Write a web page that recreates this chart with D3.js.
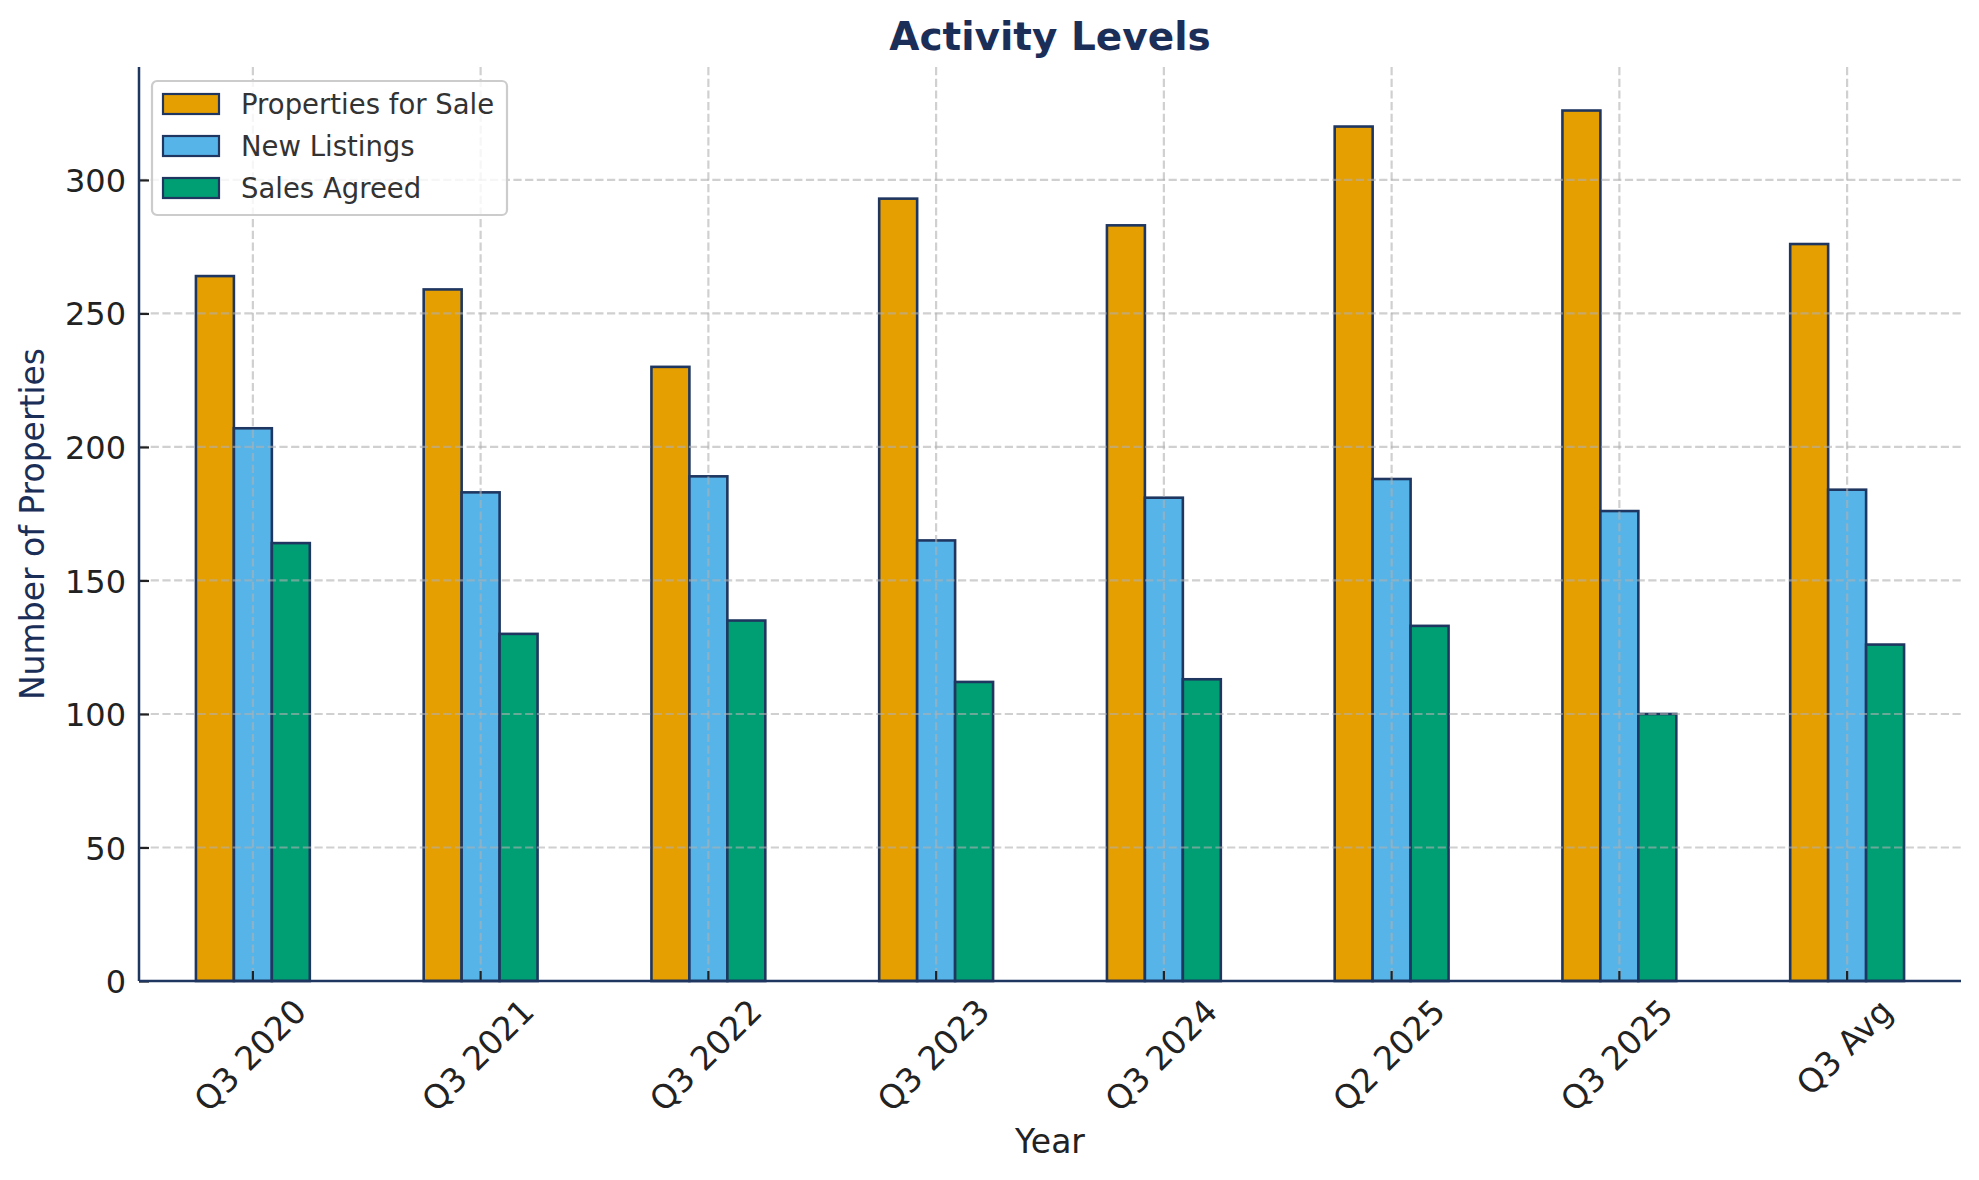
<!DOCTYPE html>
<html lang="en">
<head>
<meta charset="UTF-8">
<title>Activity Levels</title>
<script src="https://d3js.org/d3.v7.min.js"></script>
<style>
    body { margin: 0; background: #fff; }
    svg { display: block; font-family: "DejaVu Sans", sans-serif; }
</style>
</head>
<body>
<svg width="1979" height="1180"></svg>
<script>
    // Data
    const categories = ["Q3 2020", "Q3 2021", "Q3 2022", "Q3 2023", "Q3 2024", "Q2 2025", "Q3 2025", "Q3 Avg"];
    const propertiesForSale = [264, 259, 230, 293, 283, 320, 326, 276];
    const newListings = [207, 183, 189, 165, 181, 188, 176, 184];
    const salesAgreed = [164, 130, 135, 112, 113, 133, 100, 126];
    const seriesNames = ["Properties for Sale", "New Listings", "Sales Agreed"];
    const seriesColors = ["#E69F00", "#56B4E9", "#009E73"];
    const yTicks = [0, 50, 100, 150, 200, 250, 300];

    const navy = "#1b2e58";
    const edge = "#1f3760";

    const svg = d3.select("svg"),
          margin = {top: 67, right: 18, bottom: 199, left: 139},
          width = +svg.attr("width") - margin.left - margin.right,
          height = +svg.attr("height") - margin.top - margin.bottom;

    const g = svg.append("g").attr("transform", `translate(${margin.left},${margin.top})`);

    const seriesValues = [propertiesForSale, newListings, salesAgreed];
    const rows = categories.map((c, i) => ({cat: c, vals: seriesValues.map(s => s[i])}));

    // Scales
    const x = d3.scaleBand().domain(categories).range([0, width]).padding(0);
    const bw = x.bandwidth();
    const xSub = d3.scaleBand().domain(seriesNames).range([bw / 4, bw * 3 / 4]).padding(0);
    const yMax = d3.max(seriesValues.flat()) * 1.05;
    const y = d3.scaleLinear().domain([0, yMax]).range([height, 0]);

    // Bars
    const groups = g.append("g").selectAll("g")
        .data(rows)
        .join("g")
        .attr("transform", d => `translate(${x(d.cat)},0)`);

    groups.selectAll("rect")
        .data(d => d.vals.map((v, j) => ({name: seriesNames[j], value: v, color: seriesColors[j]})))
        .join("rect")
        .attr("x", d => xSub(d.name))
        .attr("y", d => y(d.value))
        .attr("width", xSub.bandwidth())
        .attr("height", d => y(0) - y(d.value))
        .attr("fill", d => d.color)
        .attr("stroke", edge)
        .attr("stroke-width", 2.6);

    // Grid (drawn above bars, like the reference)
    const grid = g.append("g").attr("stroke", "#b0b0b0").attr("stroke-opacity", 0.6)
        .attr("stroke-width", 2.2).attr("stroke-dasharray", "8.2,3.5");
    grid.selectAll("line.h").data(yTicks.slice(1)).join("line")
        .attr("x1", 0).attr("x2", width)
        .attr("y1", d => y(d)).attr("y2", d => y(d));
    grid.selectAll("line.v").data(categories).join("line")
        .attr("x1", d => x(d) + bw / 2).attr("x2", d => x(d) + bw / 2)
        .attr("y1", 0).attr("y2", height);

    // Axes
    const yAxis = g.append("g")
        .call(d3.axisLeft(y).tickValues(yTicks).tickSize(-10).tickPadding(13));
    const xAxis = g.append("g").attr("transform", `translate(0,${height})`)
        .call(d3.axisBottom(x).tickSize(-10).tickPadding(0));

    [yAxis, xAxis].forEach(ax => {
        ax.select(".domain").remove();
        ax.selectAll(".tick line").attr("stroke", "#222").attr("stroke-width", 2.2);
        ax.selectAll(".tick text").attr("fill", "#222").attr("font-size", 32)
            .attr("font-family", "DejaVu Sans, sans-serif");
    });
    yAxis.selectAll(".tick text").attr("dy", "0.36em");

    // rotated x labels, bbox centred under each tick
    xAxis.selectAll(".tick text")
        .attr("font-size", 33)
        .attr("text-anchor", "middle")
        .attr("y", 0)
        .attr("dy", "0.36em")
        .attr("transform", function() {
            const w = this.getComputedTextLength();
            const cy = 17 + (w + 20) * 0.3536;
            return `translate(-3,${cy}) rotate(-45)`;
        });

    // Spines (left and bottom only)
    g.append("line").attr("x1", 0).attr("x2", 0).attr("y1", 0).attr("y2", height)
        .attr("stroke", edge).attr("stroke-width", 2.5);
    g.append("line").attr("x1", 0).attr("x2", width).attr("y1", height).attr("y2", height)
        .attr("stroke", edge).attr("stroke-width", 2.5);

    // Titles
    svg.append("text").attr("x", margin.left + width / 2).attr("y", 50)
        .attr("text-anchor", "middle").attr("font-size", 39).attr("font-weight", "bold")
        .attr("fill", navy).text("Activity Levels");
    svg.append("text").attr("x", margin.left + width / 2).attr("y", 1153)
        .attr("text-anchor", "middle").attr("font-size", 33).attr("fill", "#222")
        .text("Year");
    svg.append("text").attr("transform", `translate(44,${margin.top + height / 2}) rotate(-90)`)
        .attr("text-anchor", "middle").attr("font-size", 33).attr("fill", navy)
        .text("Number of Properties");

    // Legend
    const legend = svg.append("g").attr("transform", "translate(152,81)");
    legend.append("rect").attr("width", 355).attr("height", 134).attr("rx", 5)
        .attr("fill", "#fff").attr("fill-opacity", 0.8)
        .attr("stroke", "#cccccc").attr("stroke-width", 2.2);
    const item = legend.selectAll("g.item").data(seriesNames).join("g")
        .attr("transform", (d, i) => `translate(0,${13 + i * 42})`);
    item.append("rect").attr("x", 11).attr("width", 56).attr("height", 20)
        .attr("fill", (d, i) => seriesColors[i]).attr("stroke", edge).attr("stroke-width", 2.2);
    item.append("text").attr("x", 89).attr("y", 20).attr("font-size", 27.5)
        .attr("fill", "#333").text(d => d);
</script>
</body>
</html>
